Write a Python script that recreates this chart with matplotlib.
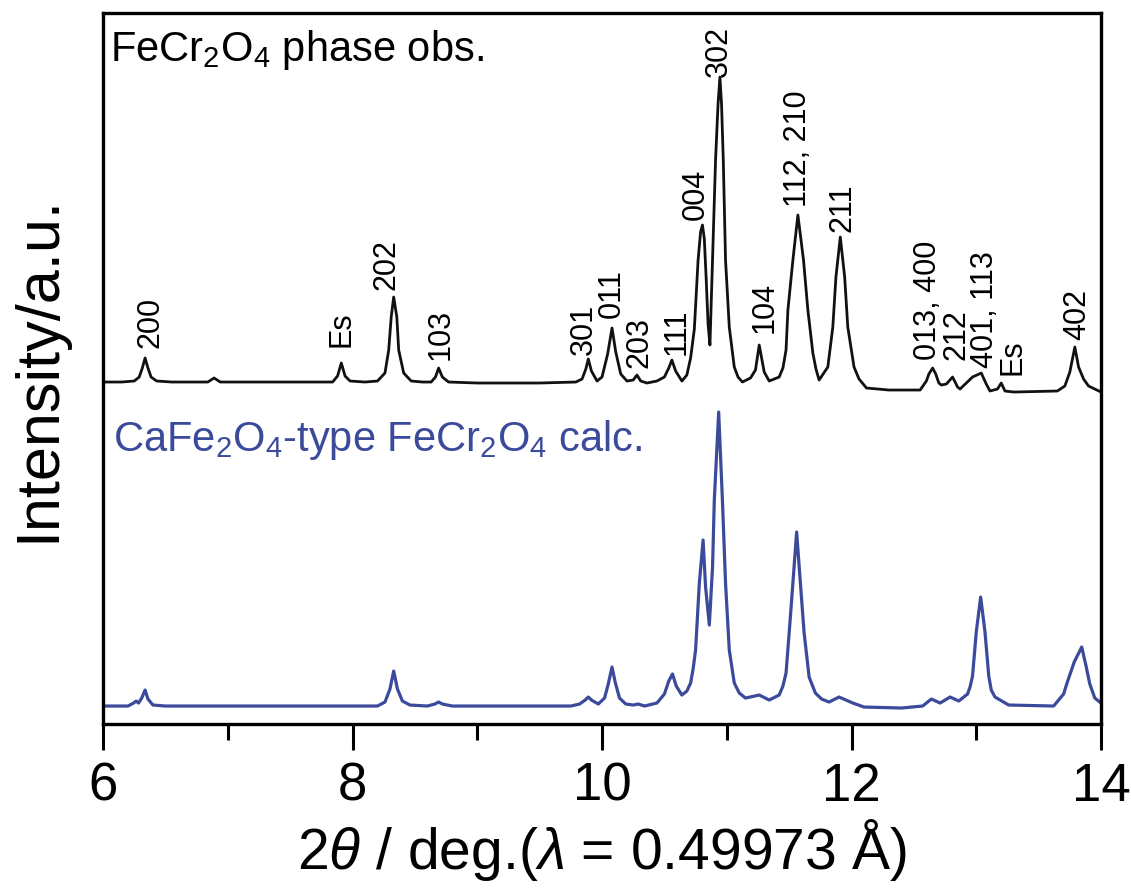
import numpy as np
import matplotlib
matplotlib.use("Agg")
import matplotlib.pyplot as plt
from matplotlib.ticker import MultipleLocator

plt.rcParams["font.family"] = ["Liberation Sans", "DejaVu Sans"]
plt.rcParams["mathtext.fontset"] = "custom"
plt.rcParams["mathtext.rm"] = "Liberation Sans"
plt.rcParams["mathtext.it"] = "Liberation Sans:italic"

BLUE = "#3B4A9B"

# observed pattern: (2theta / deg, intensity / a.u., offset included)
obs_trace = [
    (6.00, 342), (6.15, 342), (6.25, 343), (6.29, 347), (6.315, 356), (6.337, 366),
    (6.36, 356), (6.385, 347), (6.43, 343), (6.55, 342), (6.84, 342), (6.89, 346),
    (6.94, 342), (7.40, 342), (7.84, 342), (7.88, 348), (7.91, 361), (7.94, 348),
    (7.98, 343), (8.10, 342), (8.20, 343), (8.26, 351), (8.29, 374), (8.31, 407),
    (8.33, 427), (8.355, 407), (8.37, 374), (8.41, 351), (8.47, 343), (8.56, 342),
    (8.63, 342), (8.665, 347), (8.69, 356), (8.72, 347), (8.77, 342), (9.00, 341),
    (9.50, 341), (9.79, 342), (9.84, 345), (9.87, 355), (9.89, 365), (9.915, 353),
    (9.96, 343), (10.00, 347), (10.045, 370), (10.08, 396), (10.11, 372), (10.15, 350),
    (10.20, 343), (10.25, 344), (10.28, 349), (10.31, 343), (10.36, 341), (10.44, 343),
    (10.50, 347), (10.535, 356), (10.56, 364), (10.59, 353), (10.64, 343), (10.68, 349),
    (10.71, 366), (10.74, 395), (10.77, 464), (10.79, 492), (10.805, 499), (10.82, 485),
    (10.835, 445), (10.85, 400), (10.865, 379), (10.886, 464), (10.91, 564), (10.93, 620),
    (10.945, 647), (10.958, 620), (10.972, 564), (10.99, 464), (11.02, 397), (11.06, 357),
    (11.09, 347), (11.125, 342), (11.19, 346), (11.23, 354), (11.26, 379), (11.30, 352),
    (11.34, 343), (11.42, 347), (11.45, 356), (11.475, 374), (11.49, 414), (11.53, 464),
    (11.57, 509), (11.615, 464), (11.65, 414), (11.69, 371), (11.715, 355), (11.74, 344),
    (11.81, 357), (11.85, 397), (11.875, 447), (11.91, 487), (11.945, 447), (11.97, 397),
    (12.02, 357), (12.06, 345), (12.12, 336), (12.30, 334), (12.55, 334), (12.60, 343),
    (12.62, 350), (12.65, 356), (12.675, 350), (12.70, 341), (12.72, 339), (12.76, 340),
    (12.81, 347), (12.85, 337), (12.87, 335), (12.97, 347), (13.04, 351), (13.08, 340),
    (13.11, 333), (13.17, 335), (13.20, 341), (13.23, 333), (13.30, 332), (13.65, 333),
    (13.71, 338), (13.75, 352), (13.79, 377), (13.82, 357), (13.86, 345), (13.90, 338),
    (14.00, 332),
]

# calculated CaFe2O4-type FeCr2O4 pattern
calc_trace = [
    (6.00, 18), (6.20, 18), (6.245, 21), (6.265, 23), (6.285, 21), (6.31, 26),
    (6.337, 34), (6.36, 25), (6.40, 19), (6.50, 18), (8.20, 18), (8.26, 22),
    (8.30, 35), (8.33, 53), (8.36, 35), (8.40, 23), (8.46, 19), (8.60, 18),
    (8.66, 20), (8.69, 22), (8.72, 20), (8.80, 18), (9.75, 18), (9.82, 20),
    (9.865, 24), (9.89, 27), (9.915, 24), (9.97, 20), (10.02, 26), (10.05, 40),
    (10.08, 57), (10.105, 42), (10.14, 26), (10.19, 20), (10.25, 19), (10.29, 20),
    (10.34, 18), (10.44, 21), (10.50, 30), (10.535, 43), (10.565, 50), (10.595, 38),
    (10.64, 29), (10.68, 33), (10.71, 41), (10.73, 55), (10.75, 74), (10.78, 141),
    (10.81, 184), (10.83, 137), (10.86, 99), (10.886, 157), (10.90, 224), (10.935, 312),
    (10.965, 224), (10.99, 141), (11.02, 74), (11.06, 41), (11.10, 31), (11.15, 26),
    (11.26, 29), (11.34, 24), (11.42, 29), (11.45, 38), (11.475, 51), (11.50, 91),
    (11.53, 141), (11.56, 192), (11.59, 141), (11.62, 91), (11.66, 47), (11.71, 31),
    (11.76, 25), (11.82, 22), (11.90, 27), (12.01, 21), (12.10, 17), (12.40, 16),
    (12.57, 18), (12.64, 25), (12.71, 21), (12.79, 27), (12.86, 23), (12.93, 30),
    (12.95, 37), (12.97, 48), (13.00, 92), (13.035, 127), (13.07, 92), (13.10, 48),
    (13.12, 34), (13.15, 27), (13.26, 19), (13.62, 18), (13.70, 30), (13.73, 42),
    (13.785, 62), (13.845, 77), (13.88, 58), (13.91, 40), (13.95, 26), (14.00, 21),
]

# reflection labels: text, 2theta, bottom of label
hkl_text = ["200", "Es", "202", "103", "301", "011", "203", "111", "004", "302",
            "104", "112, 210", "211", "013, 400", "212", "401, 113", "Es", "402"]
hkl_x = [6.38, 7.91, 8.27, 8.71, 9.855, 10.08, 10.30, 10.60, 10.755, 10.94,
         11.30, 11.57, 11.93, 12.61, 12.84, 13.07, 13.29, 13.81]
hkl_y = [376, 377, 434, 364, 369, 406, 356, 369, 504, 647,
         391, 517, 492, 364, 364, 356, 349, 384]

obs_x, obs_y = np.array(obs_trace).T
calc_x, calc_y = np.array(calc_trace).T

fig = plt.figure(figsize=(11.31, 8.91), dpi=100)
ax = fig.add_axes([0.0911, 0.1874, 0.8824, 0.798])

ax.plot(obs_x, obs_y, color="#111111", linewidth=2.0, solid_joinstyle="round")
ax.plot(calc_x, calc_y, color=BLUE, linewidth=2.3, solid_joinstyle="round")

for s, x, y in zip(hkl_text, hkl_x, hkl_y):
    ax.text(x, y, s, rotation=90, ha="center", va="bottom", fontsize=22)

ax.text(6.056, 663, r"FeCr$_2$O$_4$ phase obs.", fontsize=30, va="baseline")
ax.text(6.08, 273, r"CaFe$_2$O$_4$-type FeCr$_2$O$_4$ calc.", fontsize=30,
        va="baseline", color=BLUE)

ax.set_xlim(6, 14)
ax.set_ylim(0, 711)
ax.xaxis.set_major_locator(MultipleLocator(2))
ax.xaxis.set_minor_locator(MultipleLocator(1))
ax.set_yticks([])
ax.tick_params(axis="x", which="major", direction="out", length=19, width=2.2,
               labelsize=38, pad=8)
ax.tick_params(axis="x", which="minor", direction="out", length=11.5, width=2.2)
for sp in ax.spines.values():
    sp.set_linewidth(2.4)

ax.set_xlabel(r"2$\theta$ / deg.($\lambda$ = 0.49973 Å)", fontsize=41, labelpad=4)
ax.set_ylabel("Intensity/a.u.", fontsize=44)
ax.yaxis.set_label_coords(-0.036, 0.5)

fig.savefig("out.png", dpi=100)
